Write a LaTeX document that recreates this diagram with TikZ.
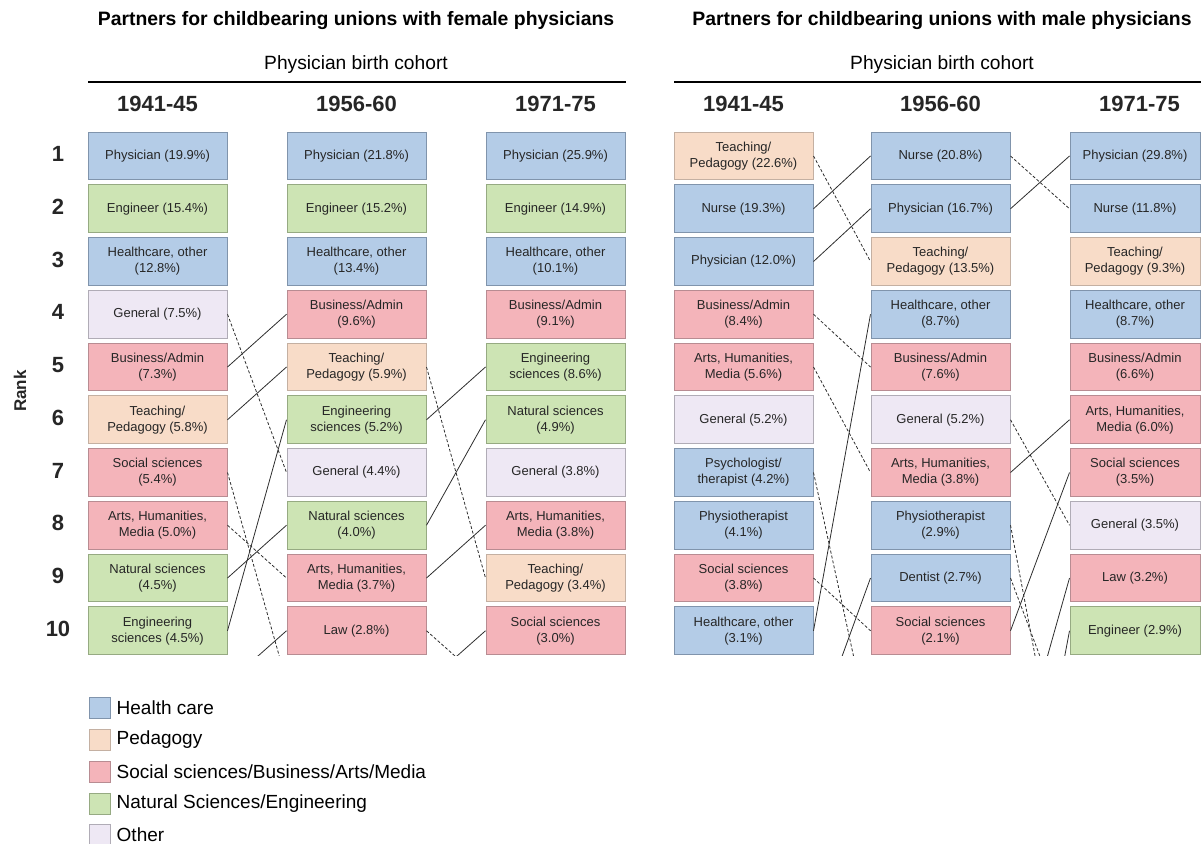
\documentclass[tikz,border=0pt]{standalone}
\usepackage{fontspec}
\setmainfont{Liberation Sans}
\usetikzlibrary{positioning}

\definecolor{hcfill}{RGB}{180,204,231}
\definecolor{hcline}{RGB}{128,148,172}
\definecolor{pefill}{RGB}{248,220,200}
\definecolor{peline}{RGB}{196,176,162}
\definecolor{ssfill}{RGB}{244,180,186}
\definecolor{ssline}{RGB}{184,140,146}
\definecolor{nsfill}{RGB}{205,228,180}
\definecolor{nsline}{RGB}{150,170,130}
\definecolor{otfill}{RGB}{238,232,244}
\definecolor{otline}{RGB}{176,172,182}
\definecolor{txtgray}{RGB}{38,38,38}
\definecolor{linkgray}{RGB}{45,45,45}

\tikzset{
  occ/.style={minimum width=139pt, minimum height=47.6pt, inner sep=1pt, align=center,
    line width=1pt, text=txtgray, font=\fontsize{13}{16}\selectfont},
  hc/.style={occ, fill=hcfill, draw=hcline},
  pe/.style={occ, fill=pefill, draw=peline},
  ss/.style={occ, fill=ssfill, draw=ssline},
  ns/.style={occ, fill=nsfill, draw=nsline},
  ot/.style={occ, fill=otfill, draw=otline},
  lastcol/.style={minimum width=130pt},
  linkup/.style={draw=linkgray, line width=0.8pt},
  linkdown/.style={draw=linkgray, line width=0.8pt, dash pattern=on 3pt off 2pt},
  paneltitle/.style={font=\fontsize{19.4}{23}\selectfont\bfseries, text=black},
  cohort/.style={font=\fontsize{19.2}{23}\selectfont, text=black},
  year/.style={font=\fontsize{22}{26}\selectfont\bfseries, text=txtgray},
  ranknum/.style={font=\fontsize{22}{26}\selectfont\bfseries, text=txtgray},
  legbox/.style={minimum width=21pt, minimum height=21pt, inner sep=0pt, line width=1pt},
  legtext/.style={font=\fontsize{19}{23}\selectfont, text=black, inner sep=0pt, anchor=west}
}

% box at column centre #3, rank #4
\newcommand{\occ}[5]{\node[#2] (#1) at (#3,{156+52.75*(#4-1)}) {#5};}

\begin{document}
\begin{tikzpicture}[x=1pt,y=-1pt]
  \useasboundingbox (0,0) rectangle (1201,843);
  %Headers
  \node[paneltitle] (ftitle) at (356,21) {Partners for childbearing unions with female physicians};
  \node[paneltitle] (mtitle) at (942,21) {Partners for childbearing unions with male physicians};
  \node[cohort] (fcohort) at (356,65) {Physician birth cohort};
  \node[cohort] (mcohort) at (942,65) {Physician birth cohort};
  \draw[line width=2pt] (88,82) -- (626,82);
  \draw[line width=2pt] (674,82) -- (1201,82);
  \node[year] (fya) at (157.5,104) {1941-45};
  \node[year] (fyb) at (356.5,104) {1956-60};
  \node[year] (fyc) at (555.5,104) {1971-75};
  \node[year] (mya) at (743.5,104) {1941-45};
  \node[year] (myb) at (940.5,104) {1956-60};
  \node[year] (myc) at (1139.5,104) {1971-75};
  %Ranks
  \node[font=\fontsize{17}{20}\selectfont\bfseries, text=txtgray, rotate=90] (ranklabel) at (20,391) {Rank};
  \foreach \r in {1,...,10}
    \node[ranknum] (rank\r) at (58,{154+52.75*(\r-1)}) {\r};

  %Female physicians, 1941-45
  \occ{fa1}{hc}{157.5}{1}{Physician (19.9\%)}
  \occ{fa2}{ns}{157.5}{2}{Engineer (15.4\%)}
  \occ{fa3}{hc}{157.5}{3}{Healthcare, other\\(12.8\%)}
  \occ{fa4}{ot}{157.5}{4}{General (7.5\%)}
  \occ{fa5}{ss}{157.5}{5}{Business/Admin\\(7.3\%)}
  \occ{fa6}{pe}{157.5}{6}{Teaching/\\Pedagogy (5.8\%)}
  \occ{fa7}{ss}{157.5}{7}{Social sciences\\(5.4\%)}
  \occ{fa8}{ss}{157.5}{8}{Arts, Humanities,\\Media (5.0\%)}
  \occ{fa9}{ns}{157.5}{9}{Natural sciences\\(4.5\%)}
  \occ{fa10}{ns}{157.5}{10}{Engineering\\sciences (4.5\%)}
  %Female physicians, 1956-60
  \occ{fb1}{hc}{356.5}{1}{Physician (21.8\%)}
  \occ{fb2}{ns}{356.5}{2}{Engineer (15.2\%)}
  \occ{fb3}{hc}{356.5}{3}{Healthcare, other\\(13.4\%)}
  \occ{fb4}{ss}{356.5}{4}{Business/Admin\\(9.6\%)}
  \occ{fb5}{pe}{356.5}{5}{Teaching/\\Pedagogy (5.9\%)}
  \occ{fb6}{ns}{356.5}{6}{Engineering\\sciences (5.2\%)}
  \occ{fb7}{ot}{356.5}{7}{General (4.4\%)}
  \occ{fb8}{ns}{356.5}{8}{Natural sciences\\(4.0\%)}
  \occ{fb9}{ss}{356.5}{9}{Arts, Humanities,\\Media (3.7\%)}
  \occ{fb10}{ss}{356.5}{10}{Law (2.8\%)}
  %Female physicians, 1971-75
  \occ{fc1}{hc}{555.5}{1}{Physician (25.9\%)}
  \occ{fc2}{ns}{555.5}{2}{Engineer (14.9\%)}
  \occ{fc3}{hc}{555.5}{3}{Healthcare, other\\(10.1\%)}
  \occ{fc4}{ss}{555.5}{4}{Business/Admin\\(9.1\%)}
  \occ{fc5}{ns}{555.5}{5}{Engineering\\sciences (8.6\%)}
  \occ{fc6}{ns}{555.5}{6}{Natural sciences\\(4.9\%)}
  \occ{fc7}{ot}{555.5}{7}{General (3.8\%)}
  \occ{fc8}{ss}{555.5}{8}{Arts, Humanities,\\Media (3.8\%)}
  \occ{fc9}{pe}{555.5}{9}{Teaching/\\Pedagogy (3.4\%)}
  \occ{fc10}{ss}{555.5}{10}{Social sciences\\(3.0\%)}

  %Male physicians, 1941-45
  \occ{ma1}{pe}{743.5}{1}{Teaching/\\Pedagogy (22.6\%)}
  \occ{ma2}{hc}{743.5}{2}{Nurse (19.3\%)}
  \occ{ma3}{hc}{743.5}{3}{Physician (12.0\%)}
  \occ{ma4}{ss}{743.5}{4}{Business/Admin\\(8.4\%)}
  \occ{ma5}{ss}{743.5}{5}{Arts, Humanities,\\Media (5.6\%)}
  \occ{ma6}{ot}{743.5}{6}{General (5.2\%)}
  \occ{ma7}{hc}{743.5}{7}{Psychologist/\\therapist (4.2\%)}
  \occ{ma8}{hc}{743.5}{8}{Physiotherapist\\(4.1\%)}
  \occ{ma9}{ss}{743.5}{9}{Social sciences\\(3.8\%)}
  \occ{ma10}{hc}{743.5}{10}{Healthcare, other\\(3.1\%)}
  %Male physicians, 1956-60
  \occ{mb1}{hc}{940.5}{1}{Nurse (20.8\%)}
  \occ{mb2}{hc}{940.5}{2}{Physician (16.7\%)}
  \occ{mb3}{pe}{940.5}{3}{Teaching/\\Pedagogy (13.5\%)}
  \occ{mb4}{hc}{940.5}{4}{Healthcare, other\\(8.7\%)}
  \occ{mb5}{ss}{940.5}{5}{Business/Admin\\(7.6\%)}
  \occ{mb6}{ot}{940.5}{6}{General (5.2\%)}
  \occ{mb7}{ss}{940.5}{7}{Arts, Humanities,\\Media (3.8\%)}
  \occ{mb8}{hc}{940.5}{8}{Physiotherapist\\(2.9\%)}
  \occ{mb9}{hc}{940.5}{9}{Dentist (2.7\%)}
  \occ{mb10}{ss}{940.5}{10}{Social sciences\\(2.1\%)}
  %Male physicians, 1971-75
  \occ{mc1}{hc,lastcol}{1135}{1}{Physician (29.8\%)}
  \occ{mc2}{hc,lastcol}{1135}{2}{Nurse (11.8\%)}
  \occ{mc3}{pe,lastcol}{1135}{3}{Teaching/\\Pedagogy (9.3\%)}
  \occ{mc4}{hc,lastcol}{1135}{4}{Healthcare, other\\(8.7\%)}
  \occ{mc5}{ss,lastcol}{1135}{5}{Business/Admin\\(6.6\%)}
  \occ{mc6}{ss,lastcol}{1135}{6}{Arts, Humanities,\\Media (6.0\%)}
  \occ{mc7}{ss,lastcol}{1135}{7}{Social sciences\\(3.5\%)}
  \occ{mc8}{ot,lastcol}{1135}{8}{General (3.5\%)}
  \occ{mc9}{ss,lastcol}{1135}{9}{Law (3.2\%)}
  \occ{mc10}{ns,lastcol}{1135}{10}{Engineer (2.9\%)}

  %Places below rank 10
  \coordinate (faout11) at (227,683.5);
  \coordinate (fbin11) at (287,683.5);
  \coordinate (fbout11) at (426,683.5);
  \coordinate (fcin11) at (486,683.5);
  \coordinate (maout12) at (813,736.25);
  \coordinate (mbin12) at (871,736.25);
  \coordinate (mbout13) at (1010,789);
  \coordinate (mbout16) at (1010,947.25);
  \coordinate (mcin12) at (1070,736.25);
  \coordinate (mcin14) at (1070,841.75);

  %Connectors
  \begin{scope}
    \clip (0,0) rectangle (1201,655);
    \draw[linkdown] (fa4.east) -- (fb7.west);
    \draw[linkup] (fa5.east) -- (fb4.west);
    \draw[linkup] (fa6.east) -- (fb5.west);
    \draw[linkdown] (fa7.east) -- (fbin11);
    \draw[linkdown] (fa8.east) -- (fb9.west);
    \draw[linkup] (fa9.east) -- (fb8.west);
    \draw[linkup] (fa10.east) -- (fb6.west);
    \draw[linkup] (faout11) -- (fb10.west);
    \draw[linkdown] (fb5.east) -- (fc9.west);
    \draw[linkup] (fb6.east) -- (fc5.west);
    \draw[linkup] (fb8.east) -- (fc6.west);
    \draw[linkup] (fb9.east) -- (fc8.west);
    \draw[linkdown] (fb10.east) -- (fcin11);
    \draw[linkup] (fbout11) -- (fc10.west);
    \draw[linkdown] (ma1.east) -- (mb3.west);
    \draw[linkup] (ma2.east) -- (mb1.west);
    \draw[linkup] (ma3.east) -- (mb2.west);
    \draw[linkdown] (ma4.east) -- (mb5.west);
    \draw[linkdown] (ma5.east) -- (mb7.west);
    \draw[linkdown] (ma7.east) -- (mbin12);
    \draw[linkdown] (ma9.east) -- (mb10.west);
    \draw[linkup] (ma10.east) -- (mb4.west);
    \draw[linkup] (maout12) -- (mb9.west);
    \draw[linkdown] (mb1.east) -- (mc2.west);
    \draw[linkup] (mb2.east) -- (mc1.west);
    \draw[linkdown] (mb6.east) -- (mc8.west);
    \draw[linkup] (mb7.east) -- (mc6.west);
    \draw[linkdown] (mb8.east) -- (mcin14);
    \draw[linkdown] (mb9.east) -- (mcin12);
    \draw[linkup] (mb10.east) -- (mc7.west);
    \draw[linkup] (mbout13) -- (mc9.west);
    \draw[linkup] (mbout16) -- (mc10.west);
  \end{scope}

  %Legend
  \node[legbox, fill=hcfill, draw=hcline] (lg1) at (99.5,708) {};
  \node[legbox, fill=pefill, draw=peline] (lg2) at (99.5,740) {};
  \node[legbox, fill=ssfill, draw=ssline] (lg3) at (99.5,772) {};
  \node[legbox, fill=nsfill, draw=nsline] (lg4) at (99.5,804) {};
  \node[legbox, fill=otfill, draw=otline] (lg5) at (99.5,835) {};
  \node[legtext, right=6pt of lg1] (lgt1) {Health care};
  \node[legtext, right=6pt of lg2] (lgt2) {Pedagogy};
  \node[legtext, right=6pt of lg3] (lgt3) {Social sciences/Business/Arts/Media};
  \node[legtext, right=6pt of lg4] (lgt4) {Natural Sciences/Engineering};
  \node[legtext, right=6pt of lg5] (lgt5) {Other};
\end{tikzpicture}
\end{document}
